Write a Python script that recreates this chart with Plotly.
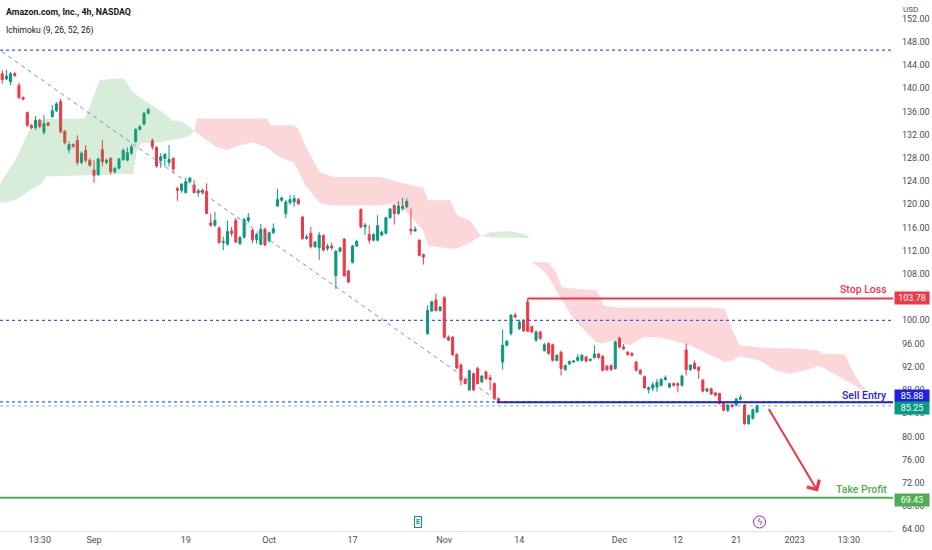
import plotly.graph_objects as go

# ---------------- data ----------------
# bar index: 0 = 1 Sep 2022 09:30 (two 4h bars per trading day)
bars = list(range(-23, 160))

opens = [
    145.4, 142.5, 141.6, 141.1, 142.5, 140.5, 138.4, 135.8, 133.6, 133.2,
    134.5, 132.4, 134.0, 135.1, 136.1, 137.7, 132.6, 129.4, 130.3, 131.0,
    127.2, 129.3, 127.6, 125.9, 125.1, 129.4, 127.2, 127.9, 125.6, 126.2,
    127.7, 127.6, 128.8, 130.8, 132.9, 133.8, 135.7, 131.0, 129.8, 127.5,
    127.9, 127.2, 127.9, 122.7, 122.4, 122.0, 123.9, 123.3, 122.0, 122.4,
    122.2, 116.8, 116.4, 115.9, 113.4, 113.1, 115.4, 117.2, 113.2, 114.3,
    117.2, 115.5, 113.9, 113.1, 115.7, 113.7, 115.1, 119.7, 120.7, 118.4,
    120.3, 120.4, 120.8, 117.8, 114.1, 115.0, 112.7, 112.5, 114.6, 112.4,
    112.8, 107.7, 111.9, 114.0, 108.5, 110.0, 112.8, 119.1, 116.1, 114.8,
    113.8, 113.8, 114.7, 115.0, 117.7, 119.8, 118.4, 119.3, 119.6, 115.7,
    115.4, 113.8, 111.3, 97.7, 101.6, 103.5, 101.7, 103.9, 97.1, 97.1,
    94.1, 92.3, 89.8, 88.0, 90.8, 91.7, 89.4, 91.1, 90.1, 89.1,
    86.5, 92.8, 95.7, 97.7, 100.9, 98.6, 99.9, 103.2, 98.9, 96.6,
    98.0, 94.8, 96.0, 95.8, 93.1, 94.5, 91.5, 92.5, 92.8, 93.1,
    93.1, 93.7, 93.1, 93.6, 94.2, 93.8, 92.1, 92.2, 91.7, 96.9,
    95.4, 94.5, 94.3, 92.8, 91.4, 90.3, 88.1, 88.3, 88.5, 88.8,
    89.8, 88.5, 89.1, 89.1, 88.8, 94.9, 91.5, 92.6, 91.9, 89.7,
    87.8, 88.2, 87.5, 87.4, 85.7, 84.5, 85.4, 85.4, 86.4, 85.4,
    82.2, 83.1, 84.2,
]
highs = [
    145.8, 143.1, 143.2, 142.8, 142.8, 140.9, 138.6, 136.0, 133.8, 135.2,
    134.7, 135.4, 134.2, 137.1, 137.6, 138.2, 132.8, 130.8, 130.5, 131.9,
    129.1, 130.2, 127.9, 127.6, 128.0, 131.1, 127.9, 128.1, 126.4, 128.0,
    129.6, 129.8, 130.3, 133.1, 133.6, 135.9, 136.6, 131.3, 130.0, 128.8,
    128.8, 130.2, 128.1, 123.0, 123.6, 124.6, 124.7, 124.2, 122.7, 122.7,
    123.6, 118.4, 118.7, 116.2, 114.4, 117.2, 116.1, 117.6, 114.5, 117.6,
    118.5, 115.8, 115.1, 116.6, 116.0, 115.3, 116.7, 122.7, 121.3, 120.7,
    121.6, 121.6, 121.1, 118.0, 114.8, 116.1, 113.7, 115.2, 114.8, 113.2,
    113.4, 112.1, 112.6, 114.2, 108.7, 113.0, 113.9, 119.3, 116.8, 116.4,
    115.0, 118.1, 115.4, 117.8, 119.3, 120.0, 120.5, 121.1, 121.0, 119.3,
    116.2, 114.0, 111.5, 102.6, 103.4, 104.6, 102.5, 104.2, 97.4, 97.3,
    94.3, 92.6, 90.2, 91.5, 91.0, 92.0, 90.6, 91.4, 90.6, 89.3,
    86.7, 98.4, 96.6, 101.0, 101.3, 100.1, 100.2, 103.78, 99.1, 98.3,
    98.2, 96.1, 96.2, 96.0, 94.1, 94.8, 92.4, 93.1, 93.1, 94.2,
    94.1, 93.9, 93.4, 95.7, 94.4, 94.0, 92.3, 92.4, 96.5, 97.2,
    95.9, 94.7, 94.5, 93.0, 91.6, 90.5, 88.6, 89.4, 89.9, 90.0,
    90.5, 89.2, 89.3, 89.3, 90.6, 96.0, 92.4, 93.1, 92.1, 89.9,
    88.4, 88.4, 87.6, 87.5, 85.9, 85.6, 85.6, 86.7, 87.2, 85.6,
    83.8, 84.8, 85.5,
]
lows = [
    144.3, 140.8, 141.4, 140.5, 141.9, 138.1, 137.9, 133.3, 132.9, 132.8,
    133.1, 132.0, 133.4, 134.9, 135.9, 132.2, 130.3, 128.8, 129.7, 126.7,
    126.9, 127.2, 126.5, 123.7, 124.9, 126.5, 126.9, 125.2, 125.3, 126.0,
    127.5, 127.4, 128.5, 130.6, 132.7, 133.6, 135.5, 129.4, 126.3, 126.3,
    126.5, 126.5, 125.4, 120.6, 122.0, 121.9, 123.6, 121.9, 121.3, 121.7,
    118.3, 116.1, 116.1, 113.2, 112.1, 112.9, 114.5, 113.3, 113.0, 114.1,
    116.8, 113.3, 113.2, 112.9, 112.8, 113.4, 114.9, 119.6, 120.4, 117.6,
    119.9, 119.6, 119.9, 113.9, 113.9, 112.4, 112.5, 110.4, 111.9, 112.0,
    112.1, 105.4, 111.7, 107.5, 106.4, 109.8, 112.7, 115.9, 114.7, 113.2,
    113.6, 113.6, 114.5, 114.8, 117.5, 116.5, 118.2, 118.9, 119.3, 114.7,
    115.3, 111.0, 109.6, 97.5, 101.4, 101.5, 101.5, 96.9, 96.4, 93.9,
    91.6, 88.8, 89.0, 87.8, 87.8, 89.0, 89.2, 89.7, 88.0, 86.3,
    85.88, 91.5, 95.5, 97.4, 100.3, 98.3, 98.0, 98.0, 97.8, 96.3,
    96.6, 94.6, 94.1, 92.9, 92.9, 90.5, 91.3, 92.3, 92.7, 92.9,
    92.9, 92.8, 92.9, 93.4, 93.4, 91.2, 91.3, 91.3, 91.5, 95.2,
    94.9, 93.9, 93.7, 91.2, 90.6, 88.2, 87.4, 87.8, 87.7, 88.6,
    89.6, 88.3, 88.6, 87.6, 88.6, 90.5, 91.3, 91.5, 89.9, 87.6,
    87.6, 87.2, 86.9, 85.5, 84.3, 84.2, 85.0, 85.2, 86.2, 82.0,
    82.0, 82.9, 84.0,
]
closes = [
    144.6, 141.5, 142.1, 142.5, 142.2, 138.4, 138.1, 133.6, 133.2, 134.5,
    133.4, 133.9, 133.6, 136.1, 137.3, 132.5, 130.6, 130.3, 130.0, 127.2,
    128.8, 127.6, 126.7, 125.0, 127.8, 127.3, 127.6, 125.6, 126.2, 127.8,
    129.3, 128.9, 129.9, 132.9, 133.4, 135.7, 136.3, 129.9, 126.6, 128.2,
    128.6, 127.7, 126.1, 122.4, 123.5, 123.9, 124.5, 122.0, 122.3, 122.0,
    118.4, 116.4, 117.2, 113.4, 113.6, 115.3, 115.0, 113.5, 114.3, 117.4,
    117.7, 113.9, 114.8, 115.7, 113.0, 115.1, 115.8, 120.8, 121.1, 120.4,
    120.8, 121.0, 120.1, 114.1, 114.4, 112.7, 113.5, 114.7, 112.1, 112.8,
    112.5, 111.9, 112.5, 107.7, 106.6, 112.8, 113.6, 116.1, 116.4, 113.8,
    114.8, 116.3, 115.2, 117.7, 119.2, 118.4, 119.7, 119.6, 120.5, 115.4,
    115.7, 111.2, 110.9, 101.7, 103.2, 101.7, 102.3, 97.1, 96.6, 94.1,
    91.8, 89.7, 89.1, 91.3, 88.0, 89.1, 90.4, 90.0, 89.8, 86.5,
    86.0, 95.7, 96.4, 100.9, 100.6, 99.7, 98.2, 98.1, 98.0, 98.0,
    96.9, 95.8, 94.3, 93.1, 94.0, 91.7, 92.2, 92.9, 93.0, 93.6,
    94.0, 93.0, 93.3, 94.2, 93.6, 91.4, 91.5, 91.5, 96.3, 95.4,
    95.1, 94.1, 94.0, 91.4, 90.8, 88.4, 88.4, 88.9, 89.3, 89.8,
    90.1, 89.1, 88.8, 88.8, 90.4, 91.5, 92.3, 91.7, 91.4, 87.8,
    88.2, 87.3, 87.1, 85.7, 84.5, 85.4, 85.1, 86.4, 86.7, 82.2,
    83.6, 84.6, 85.25,
]

# Ichimoku cloud (Senkou span A / B, already shifted 26 bars forward)
cloud_x = [-22.5, -18.9, -15.3, -12.5, -11.5, -2.2, -0.5, 1.4, 7.0, 9.4,
           10.3, 11.3, 15.8, 18.7, 21.3, 23.0, 24.0, 24.7, 25.4, 29.5,
           31.9, 35.0, 38.1, 41.5, 42.4, 44.6, 47.7, 48.9, 50.6, 52.5,
           54.2, 57.3, 68.6, 72.2, 75.8, 78.9, 80.1, 85.4, 87.1, 90.2,
           92.1, 93.0, 95.0, 99.8, 103.4, 104.6, 104.8, 106.0, 107.0, 108.9,
           110.8, 112.2, 114.9, 118.2, 120.6, 122.1, 124.9, 128.5, 131.7, 135.7,
           142.9, 147.7, 151.3, 153.0, 154.9, 159.7, 163.3, 166.9, 170.5, 173.6,
           174.6, 180.1, 181.8, 183.7, 185.0]
span_a = [123.6, 127.6, 133.1, 134.5, 134.7, 134.8, 137.9, 141.4, 141.7, 139.3,
          138.8, 138.3, 136.2, 134.5, 134.2, 133.3, 132.6, 132.2, 131.9, 129.8,
          129.3, 130.2, 130.7, 129.8, 129.3, 128.1, 127.3, 125.9, 123.3, 121.6,
          120.2, 119.8, 119.8, 120.2, 118.1, 115.5, 112.9, 112.4, 112.4, 113.4,
          114.3, 114.5, 115.2, 115.4, 114.8, 114.2, 110.0, 109.5, 109.0, 107.6,
          105.2, 103.5, 100.4, 97.8, 96.2, 96.0, 96.6, 95.7, 97.1, 97.1,
          95.7, 94.0, 92.8, 93.1, 93.8, 93.1, 91.4, 90.8, 91.4, 92.1,
          91.9, 89.7, 89.0, 88.3, 87.8]
span_b = [120.2, 120.7, 122.4, 123.6, 124.8, 125.0, 125.0, 125.0, 125.2, 125.2,
          129.3, 130.5, 130.7, 131.1, 131.4, 131.8, 132.6, 134.8, 134.8, 134.8,
          134.8, 134.8, 134.8, 134.8, 133.6, 133.6, 133.6, 133.1, 130.2, 127.6,
          125.5, 124.7, 124.7, 124.0, 123.3, 122.9, 120.7, 120.7, 118.1, 117.2,
          115.2, 114.5, 114.3, 114.2, 114.2, 114.2, 110.0, 110.0, 110.0, 110.0,
          108.3, 105.7, 105.5, 105.3, 105.2, 102.6, 102.2, 102.2, 102.2, 102.2,
          102.2, 102.2, 102.0, 98.3, 95.7, 95.3, 95.2, 95.2, 95.0, 94.8,
          94.3, 94.1, 91.4, 89.2, 88.1]

# drawings
trend_x = [-22.1, 97.0]
trend_y = [146.3, 86.05]
dotted_levels = [146.55, 100.0, 85.95]
stop_loss = 103.78
stop_loss_start = 104
sell_entry = 85.88
sell_entry_start = 96.6
take_profit = 69.43
last_price = 85.25
arrow_from = (161.6, 85.0)
arrow_to = (173.6, 70.5)

tick_bars = [-13, 0, 22, 42, 62, 84, 102, 126, 140, 154, 168, 181]
tick_labels = ["13:30", "Sep", "19", "Oct", "17", "Nov", "14", "Dec", "12", "21", "2023", "13:30"]
price_ticks = list(range(64, 153, 4))

earnings_bar = 77.8
event_bar = 159.6

X_MIN, X_MAX = -22.54, 191.6
Y_MIN, Y_MAX = 63.7, 155.2

UP = "#089981"
DN = "#F23645"
BLUE = "#1f22e6"
GREEN = "#4caf50"
TXT = "#131722"

fig = go.Figure()

# ---- cloud ----
n = len(cloud_x)
segs, cur = [], [0]
for i in range(1, n):
    cur.append(i)
    if span_a[i] == span_b[i]:
        segs.append(cur)
        cur = [i]
if len(cur) > 1:
    segs.append(cur)
for seg in segs:
    diffs = [span_a[i] - span_b[i] for i in seg]
    if max(abs(d) for d in diffs) == 0:
        continue
    col = "rgba(76,175,80,0.22)" if sum(diffs) > 0 else "rgba(242,54,69,0.2)"
    xs = [cloud_x[i] for i in seg] + [cloud_x[i] for i in reversed(seg)]
    ys = [span_a[i] for i in seg] + [span_b[i] for i in reversed(seg)]
    fig.add_trace(go.Scatter(x=xs, y=ys, fill="toself", fillcolor=col, mode="lines",
                             line=dict(width=0), hoverinfo="skip", showlegend=False))

# ---- level lines ----
for lv in dotted_levels:
    fig.add_trace(go.Scatter(x=[X_MIN, X_MAX], y=[lv, lv], mode="lines",
                             line=dict(color="#2962ff", width=1.2, dash="dot"),
                             hoverinfo="skip", showlegend=False))
fig.add_trace(go.Scatter(x=[X_MIN, X_MAX], y=[last_price, last_price], mode="lines",
                         line=dict(color="rgba(8,153,129,0.6)", width=1, dash="dot"),
                         hoverinfo="skip", showlegend=False))
fig.add_trace(go.Scatter(x=trend_x, y=trend_y, mode="lines",
                         line=dict(color="#6f8fcf", width=1, dash="4px,4px"),
                         hoverinfo="skip", showlegend=False))
fig.add_trace(go.Scatter(x=[X_MIN, X_MAX], y=[take_profit, take_profit], mode="lines",
                         line=dict(color=GREEN, width=2), hoverinfo="skip", showlegend=False))
fig.add_trace(go.Scatter(x=[stop_loss_start, X_MAX], y=[stop_loss, stop_loss], mode="lines",
                         line=dict(color=DN, width=2), hoverinfo="skip", showlegend=False))
fig.add_trace(go.Scatter(x=[sell_entry_start, X_MAX], y=[sell_entry, sell_entry], mode="lines",
                         line=dict(color=BLUE, width=2), hoverinfo="skip", showlegend=False))

# ---- candles ----
fig.add_trace(go.Candlestick(
    x=bars, open=opens, high=highs, low=lows, close=closes,
    increasing=dict(line=dict(color=UP, width=1), fillcolor=UP),
    decreasing=dict(line=dict(color=DN, width=1), fillcolor=DN),
    whiskerwidth=0, showlegend=False, hoverinfo="skip"))

ann = []
# title
ann.append(dict(xref="paper", yref="paper", x=0, y=1, xanchor="left", yanchor="top",
                xshift=4, yshift=-5, showarrow=False,
                text="<b>Amazon.com, Inc., 4h, NASDAQ</b>",
                font=dict(family="Roboto", size=8.8, color=TXT)))
ann.append(dict(xref="paper", yref="paper", x=0, y=1, xanchor="left", yanchor="top",
                xshift=4, yshift=-23, showarrow=False,
                text="Ichimoku (9, 26, 52, 26)",
                font=dict(family="Roboto", size=8.5, color=TXT)))
ann.append(dict(xref="paper", yref="paper", x=1, y=1, xanchor="left", yanchor="top",
                xshift=8, yshift=-3, showarrow=False, text="USD",
                font=dict(family="Roboto", size=8, color="#4a4e5a")))

# level labels
for txt, lv, col, ys in [("Stop Loss", stop_loss, DN, 9), ("Sell Entry", sell_entry, BLUE, 7),
                         ("Take Profit", take_profit, GREEN, 8)]:
    ann.append(dict(xref="paper", yref="y", x=1, y=lv, xanchor="right", yanchor="middle",
                    xshift=-4, yshift=ys, showarrow=False, text=txt,
                    font=dict(family="Roboto", size=10.5, color=col, weight=500)))

# axis price tags
for lv, col, ys in [(stop_loss, DN, 0), (sell_entry, BLUE, 6), (last_price, UP, -2), (take_profit, GREEN, -2)]:
    ann.append(dict(xref="paper", yref="y", x=1, y=lv, xanchor="left", yanchor="middle",
                    xshift=1, yshift=ys, showarrow=False, text=f"{lv:.2f}",
                    bgcolor=col, borderpad=1, width=32,
                    font=dict(family="Roboto", size=9, color="white")))

# arrow
ann.append(dict(xref="x", yref="y", x=arrow_to[0], y=arrow_to[1],
                axref="x", ayref="y", ax=arrow_from[0], ay=arrow_from[1],
                showarrow=True, arrowhead=4, arrowsize=1.4, arrowwidth=2,
                arrowcolor=DN, text=""))

# event icons
ann.append(dict(xref="x", yref="paper", x=earnings_bar, y=0, yanchor="bottom", yshift=3,
                showarrow=False, text="E", bgcolor="white", bordercolor=UP,
                borderwidth=1, borderpad=1,
                font=dict(family="Roboto", size=7, color=UP, weight=700)))
ann.append(dict(xref="x", yref="paper", x=event_bar, y=0.017, yanchor="middle",
                showarrow=False, text="ϟ",
                font=dict(family="DejaVu Sans", size=9, color="#9c27b0")))

fig.update_layout(
    width=932, height=550,
    margin=dict(l=0, r=39, t=0, b=19),
    paper_bgcolor="white", plot_bgcolor="white",
    showlegend=False,
    font=dict(family="Roboto, sans-serif", color=TXT),
    annotations=ann,
    shapes=[dict(type="circle", xref="x", yref="paper", xsizemode="pixel", ysizemode="pixel",
                 xanchor=event_bar, yanchor=0.017, x0=-6, x1=6, y0=-6, y1=6,
                 line=dict(color="#9c27b0", width=1), fillcolor="white", layer="above")],
    xaxis=dict(range=[X_MIN, X_MAX], showgrid=False, zeroline=False,
               rangeslider=dict(visible=False),
               tickmode="array", tickvals=tick_bars, ticktext=tick_labels, ticks="",
               tickfont=dict(size=9, color="#4a4e5a"),
               showline=True, linecolor="#e0e3eb", linewidth=1),
    yaxis=dict(range=[Y_MIN, Y_MAX], side="right", showgrid=False, zeroline=False,
               tickmode="array", tickvals=price_ticks,
               ticktext=[f"{v:.2f}" for v in price_ticks], ticks="",
               tickfont=dict(size=9, color="#4a4e5a"), ticklabelstandoff=8),
)

fig.write_html("out.html", config={"displayModeBar": False},
               post_script="document.body.style.margin='0px';document.body.style.overflow='hidden';")
